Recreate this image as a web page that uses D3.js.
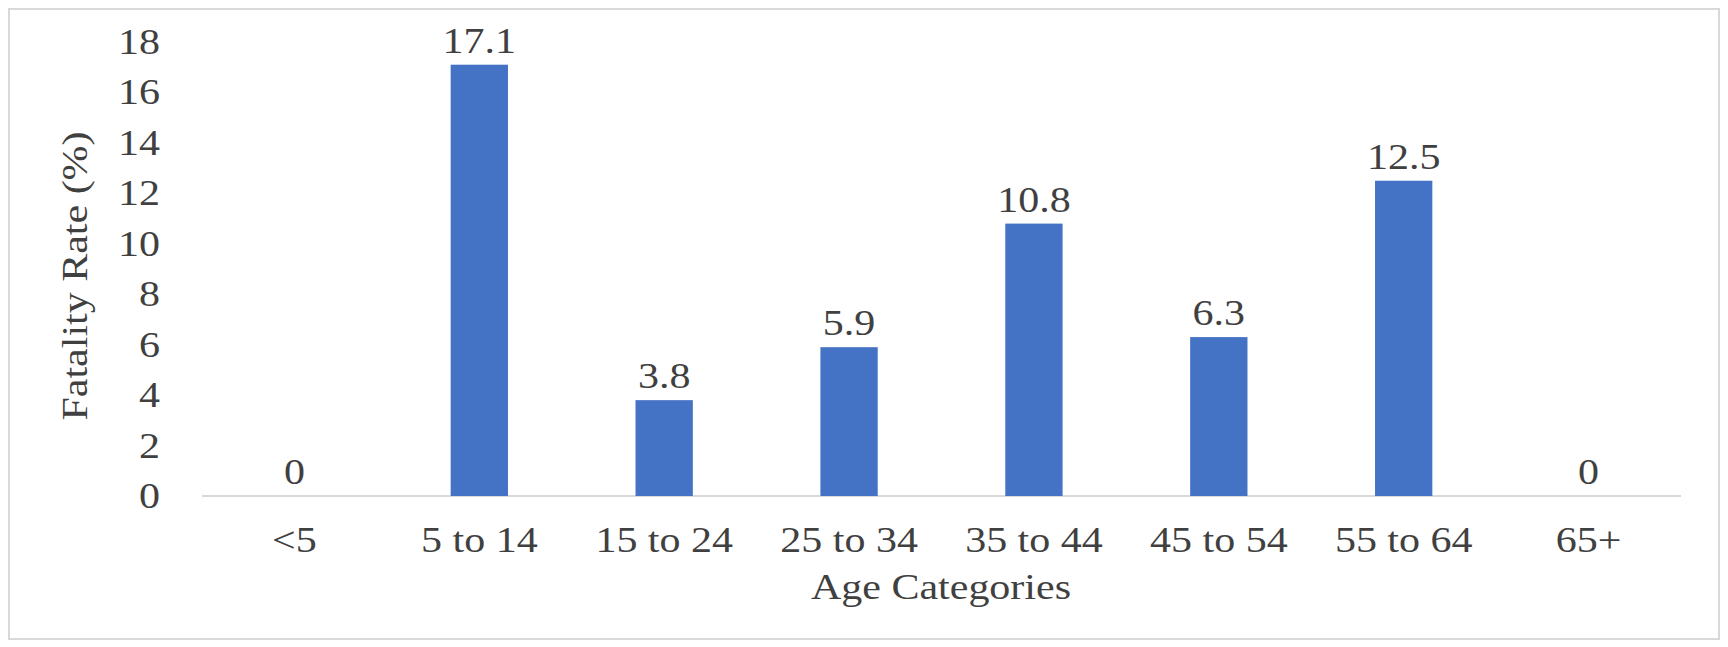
<!DOCTYPE html><html><head><meta charset="utf-8"><script src="https://cdn.jsdelivr.net/npm/d3@7"></script>
<style>body{margin:0;background:#fff}text{font-family:"Liberation Serif","Times New Roman",serif;fill:#404040}</style></head><body>
<svg id="c" width="1728" height="647"></svg>
<script>
const categories=["<5","5 to 14","15 to 24","25 to 34","35 to 44","45 to 54","55 to 64","65+"];
const values=[0,17.1,3.8,5.9,10.8,6.3,12.5,0];
const yTicks=[0,2,4,6,8,10,12,14,16,18];
const FS=35, SX=1.2;
const svg=d3.select("#c");
svg.append("rect").attr("x",9).attr("y",9).attr("width",1710).attr("height",630).attr("fill","#fff").attr("stroke","#d9d9d9").attr("stroke-width",2);
const x=d3.scaleBand().domain(categories).range([202,1681]).paddingInner(0.69).paddingOuter(0.345);
const y=d3.scaleLinear().domain([0,18]).range([496,42]);
function txt(px,py,s,anchor,rot){
  return svg.append("text").attr("transform",`translate(${px},${py})${rot?" rotate(-90)":""} scale(${SX},1)`)
    .attr("text-anchor",anchor||"middle").attr("font-size",FS).text(s);
}
yTicks.forEach(t=>txt(160,y(t)+12,t,"end"));
svg.append("line").attr("x1",202).attr("x2",1681).attr("y1",y(0)).attr("y2",y(0)).attr("stroke","#d9d9d9").attr("stroke-width",2);
svg.selectAll(".bar").data(values).join("rect").attr("x",(d,i)=>x(categories[i])).attr("width",x.bandwidth()).attr("y",d=>y(d)).attr("height",d=>y(0)-y(d)).attr("fill","#4472c4");
values.forEach((d,i)=>txt(x(categories[i])+x.bandwidth()/2,y(d)-12,d));
categories.forEach(c=>txt(x(c)+x.bandwidth()/2,552,c));
txt(941,599,"Age Categories");
svg.append("text").attr("transform","translate(87,276) rotate(-90) scale(1.2,1)").attr("text-anchor","middle").attr("font-size",FS).text("Fatality Rate (%)");
</script></body></html>
